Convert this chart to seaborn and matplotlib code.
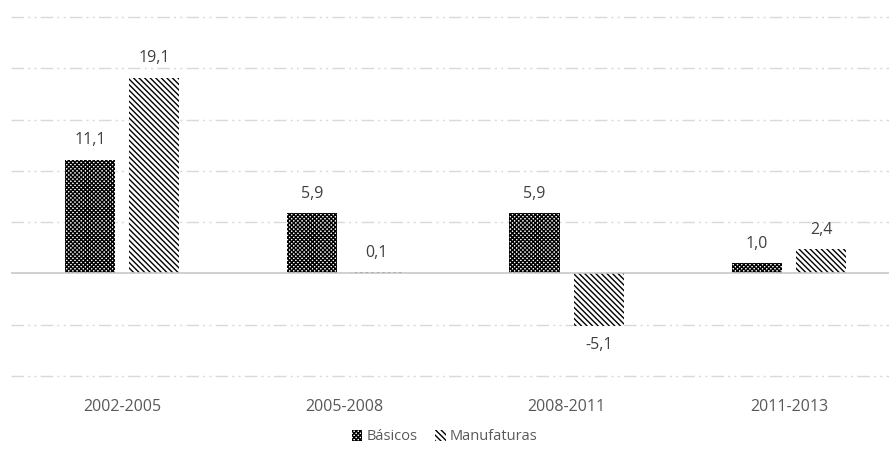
import matplotlib
matplotlib.use("Agg")
import matplotlib.pyplot as plt
import seaborn as sns
import pandas as pd
from matplotlib.patches import Patch

# Data
periods = ["2002-2005", "2005-2008", "2008-2011", "2011-2013"]
basicos = [11.1, 5.9, 5.9, 1.0]
manufaturas = [19.1, 0.1, -5.1, 2.4]
series_names = ["Básicos", "Manufaturas"]

df = pd.DataFrame({
    "periodo": periods * 2,
    "serie": [series_names[0]] * len(periods) + [series_names[1]] * len(periods),
    "valor": basicos + manufaturas,
})

sns.set_theme(style="white")
plt.rcParams["font.family"] = ["Open Sans", "DejaVu Sans"]
plt.rcParams["hatch.linewidth"] = 1.0

W, H = 889, 458
fig = plt.figure(figsize=(W / 100, H / 100), dpi=100)
ax = fig.add_axes([11 / W, 1 - 378 / H, 889 / W, (378 - 15) / H])

sns.barplot(data=df, x="periodo", y="valor", hue="serie", order=periods,
            hue_order=series_names, palette=["white", "white"],
            width=0.58, gap=0.22, legend=False, ax=ax, saturation=1)

# Dense crosshatch for Básicos, diagonal lines for Manufaturas
hatches = ["xxxxxxxx", "\\" * 6]
for cont, hatch in zip(ax.containers, hatches):
    for bar in cont:
        bar.set_hatch(hatch)
        bar.set_edgecolor("black")
        bar.set_linewidth(0)

ax.set_ylim(-10.2, 25.2)
ax.set_yticks([])
for y in [-10, -5, 5, 10, 15, 20, 25]:
    ax.axhline(y, color="#d9d9d9", lw=1.0, ls=(0, (9, 3, 1.5, 3, 1.5, 3)), zorder=0)
ax.axhline(0, color="#c8c8c8", lw=1.2, zorder=3)

for cont, vals in zip(ax.containers, [basicos, manufaturas]):
    ax.bar_label(cont, labels=[f"{v:.1f}".replace(".", ",") for v in vals],
                 padding=8, fontsize=11.5, color="#404040")

ax.set_xlabel("")
ax.set_ylabel("")
ax.tick_params(axis="x", length=0, pad=15, labelsize=11.5, labelcolor="#595959")
for s in ax.spines.values():
    s.set_visible(False)

handles = [Patch(facecolor="white", edgecolor="black", hatch=h, lw=0) for h in hatches]
fig.legend(handles, series_names, loc="center", bbox_to_anchor=(445 / W, 1 - 437 / H),
           ncol=2, frameon=False, fontsize=10.5, handlelength=0.7, handleheight=0.7,
           handletextpad=0.3, columnspacing=1.2, labelcolor="#595959")

fig.savefig("out.png", dpi=100)
